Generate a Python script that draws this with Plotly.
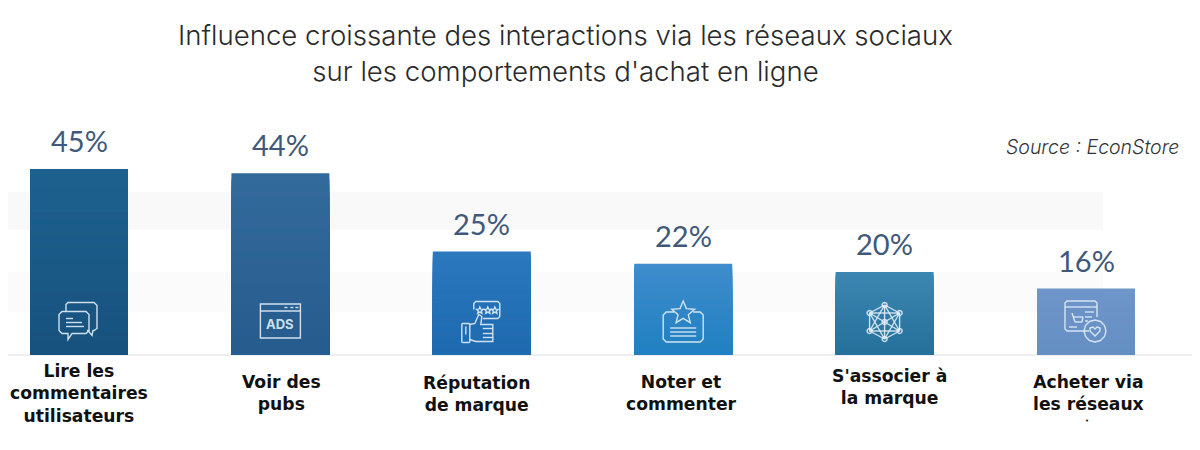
import math
import plotly.graph_objects as go

categories = ["Lire les commentaires utilisateurs", "Voir des pubs", "Réputation de marque",
              "Noter et commenter", "S'associer à la marque", "Acheter via les réseaux sociaux"]
values = [45, 44, 25, 22, 20, 16]
value_labels = ["45%", "44%", "25%", "22%", "20%", "16%"]
tick_lines = ["Lire les<br>commentaires<br>utilisateurs", "Voir des<br>pubs", "Réputation<br>de marque",
              "Noter et<br>commenter", "S'associer à<br>la marque", "Acheter via<br>les réseaux"]
tick_centers_py = [393, 393, 394, 393, 387, 393]
tick_dx = [0, 1, -5, -2, 5, 2]
top_colors = ["#1d618f", "#336a9c", "#2b78bf", "#3e8ccc", "#3b87b2", "#6f95c9"]
bottom_colors = ["#17517e", "#265b8d", "#1e69ae", "#2080c1", "#24709b", "#648fc3"]
title_lines = "Influence croissante des interactions via les réseaux sociaux<br>sur les comportements d'achat en ligne"
source_text = "Source : EconStore"

W, H = 1200, 450
OFF = 8  # page margin of the browser body
BASE, PX = 354.5 - OFF, 4.12
CX0, STEP, BW = 79 - OFF, 201.4, 98
ICON = "rgba(222,236,246,0.92)"
BOLD = dict(family="DejaVu Sans", size=17.2, color="#111111", weight=700)


def py(p):
    return 1 - (p - OFF) / H


def px(p):
    return (p - OFF) / W


def hex2rgb(c):
    return [int(c[i:i + 2], 16) for i in (1, 3, 5)]


def mix(a, b, t):
    ra, rb = hex2rgb(a), hex2rgb(b)
    return "rgb(%d,%d,%d)" % tuple(round(x + (y - x) * t) for x, y in zip(ra, rb))


fig = go.Figure()
N = 30
for k in range(N, 0, -1):
    frac = k / N
    fig.add_trace(go.Bar(
        x=categories, y=[v * frac for v in values],
        width=BW / STEP,
        marker=dict(color=[mix(b, t, frac) for t, b in zip(top_colors, bottom_colors)], line_width=0),
        hoverinfo="skip", showlegend=False))


def P(x, y):
    return f"{x:.1f},{-y:.1f}"


def poly(pts, close=True):
    return "M" + " L".join(P(*p) for p in pts) + (" Z" if close else "")


def rrect(x0, y0, x1, y1, r=2):
    pts = []
    for (cx, cy, a0) in [(x1 - r, y0 + r, -90), (x1 - r, y1 - r, 0), (x0 + r, y1 - r, 90), (x0 + r, y0 + r, 180)]:
        for s in range(5):
            a = math.radians(a0 + s * 22.5)
            pts.append((cx + r * math.cos(a), cy + r * math.sin(a)))
    return poly(pts)


def circ(cx, cy, r):
    return poly([(cx + r * math.cos(math.radians(a)), cy + r * math.sin(math.radians(a))) for a in range(0, 360, 30)])


def seg(x0, y0, x1, y1):
    return poly([(x0, y0), (x1, y1)], close=False)


def star(cx, cy, R, r=None):
    r = r or R * 0.45
    return poly([(cx + (R if s % 2 == 0 else r) * math.sin(math.radians(s * 36)),
                  cy - (R if s % 2 == 0 else r) * math.cos(math.radians(s * 36))) for s in range(10)])


def bubble_icon():
    return [
        poly([(-13, -10), (-13, -17), (-11, -19), (15, -19), (18, -16), (18, 7), (15, 9), (14, 9), (13, 14), (9, 9), (8, 9)], close=False),
        poly([(-17, -10), (7, -10), (10, -7), (10, 9), (7, 12), (-7, 12), (-11, 18), (-11, 12), (-17, 12), (-20, 9), (-20, -7)]),
        seg(-13, -3, -6, -3), seg(-13, 1, 3, 1), seg(-13, 5, 5, 5),
    ]


def ads_icon():
    return [
        poly([(-20, -19), (20, -19), (20, 15), (-20, 15)]),
        seg(-20, -12, 20, -12),
        seg(4, -15.5, 7, -15.5), seg(10, -15.5, 13, -15.5), seg(15, -15.5, 18, -15.5),
    ]


def thumb_icon():
    return [
        poly([(-8, -16), (-8, -22), (-6, -24), (16, -24), (18, -22), (18, -9), (16, -7), (1, -7)], close=False),
        star(-2, -15, 3.5), star(6, -15, 3.5), star(13, -15, 3.5),
        rrect(-20, -2, -12, 17, 1),
        poly([(-12, -1), (-7, -2), (-3, -11), (0, -9), (-1, -1), (11, -1), (11, 16), (-6, 16), (-12, 14)], close=False),
        seg(1, 3, 11, 3), seg(1, 8, 11, 8), seg(1, 12, 11, 12), seg(-16, 1, -16, 9),
    ]


def card_icon():
    return [
        poly([(-9, -10), (-17, -10), (-20, -7), (-20, 17), (-17, 20), (17, 20), (20, 17), (20, -7), (17, -10), (10, -10)], close=False),
        star(0, -9, 12),
        seg(-13, 6, 13, 6), seg(-13, 10, 13, 10), seg(-13, 14, 13, 14),
    ]


def network_icon():
    nodes = [(0, -17), (15, -9), (15, 9), (0, 17), (-15, 9), (-15, -9), (0, 0)]
    out = [circ(x, y, 2.5) for x, y in nodes]
    links = [(0, 1), (1, 2), (2, 3), (3, 4), (4, 5), (5, 0), (0, 6), (3, 6), (1, 4), (2, 5), (0, 4), (0, 2), (3, 1), (3, 5), (4, 2), (5, 1)]
    out += [seg(*nodes[a], *nodes[b]) for a, b in links]
    return out


def shop_icon():
    return [
        poly([(3, 11), (-19, 11), (-21, 9), (-21, -17), (-19, -19), (9, -19), (11, -17), (11, -3)], close=False),
        seg(-21, -13, 11, -13), seg(-14, -7, -11, 2), seg(-11, 2, -4, 2), seg(-12, -3, -3, -3), seg(-3, -3, -4, 2),
        seg(-1, -8, 8, -8), seg(-1, -3, 6, -3), seg(-1, 1, 2, 1), seg(-17, 7, -9, 7),
        circ(9, 11, 11),
        poly([(9, 16), (4, 11), (4, 8), (7, 7), (9, 9), (11, 7), (14, 8), (14, 11)]),
    ]


icons = [(bubble_icon(), 321.5), (ads_icon(), 323), (thumb_icon(), 325.5), (card_icon(), 322), (network_icon(), 322), (shop_icon(), 320)]

shapes = [
    dict(type="rect", xref="paper", yref="paper", x0=0, x1=px(1103), y0=py(230), y1=py(192),
         fillcolor="#f9f9f9", line_width=0, layer="below"),
    dict(type="rect", xref="paper", yref="paper", x0=0, x1=px(1103), y0=py(312), y1=py(272),
         fillcolor="#fbfbfb", line_width=0, layer="below"),
    dict(type="line", xref="paper", yref="paper", x0=0, x1=1, y0=py(355), y1=py(355),
         line=dict(color="#e6e9ee", width=1.5), layer="below"),
]
for cat, (paths, cy) in zip(categories, icons):
    for path in paths:
        shapes.append(dict(type="path", xref="x", yref="paper", xsizemode="pixel", ysizemode="pixel",
                           xanchor=cat, yanchor=py(cy), path=path, layer="above",
                           line=dict(color=ICON, width=1.4)))

annotations = [
    dict(x=px(565), y=py(53), xref="paper", yref="paper", text=title_lines, showarrow=False, xanchor="center",
         yanchor="middle", font=dict(family="Inter", size=27.6, color="#2a2a2a", weight=300), align="center"),
    dict(x=px(1181), y=py(147), xref="paper", yref="paper", text=f"<i>{source_text}</i>", showarrow=False,
         xanchor="right", yanchor="middle", font=dict(family="Inter", size=19.5, color="#333333", weight=300)),
    dict(x=categories[1], y=py(324), xref="x", yref="paper", text="ADS", showarrow=False, yanchor="middle",
         font=dict(family="Inter", size=13, color=ICON, weight=700)),
]
for cat, v, lab, t, c, dx in zip(categories, values, value_labels, tick_lines, tick_centers_py, tick_dx):
    annotations.append(dict(x=cat, y=v, xref="x", yref="y", text=lab, showarrow=False, yanchor="bottom", yshift=9,
                            font=dict(family="Lato", size=29, color="#40597a")))
    annotations.append(dict(x=cat, y=py(c), xref="x", yref="paper", text=t, showarrow=False, yanchor="middle",
                            xshift=dx, align="center", font=BOLD))
annotations.append(dict(x=categories[5], y=py(421), xref="x", yref="paper", text="•", showarrow=False, xshift=1,
                        yanchor="middle", font=dict(family="DejaVu Sans", size=7, color="#111111")))

fig.update_layout(
    width=W, height=H, margin=dict(l=0, r=0, t=0, b=0),
    paper_bgcolor="white", plot_bgcolor="rgba(0,0,0,0)", barmode="overlay", showlegend=False,
    xaxis=dict(type="category", categoryorder="array", categoryarray=categories,
               range=[-CX0 / STEP, (W - CX0) / STEP], showticklabels=False, showgrid=False, zeroline=False,
               showline=False, ticks=""),
    yaxis=dict(range=[-(H - BASE) / PX, BASE / PX], visible=False),
    shapes=shapes, annotations=annotations,
)
fig.write_html("out.html")
